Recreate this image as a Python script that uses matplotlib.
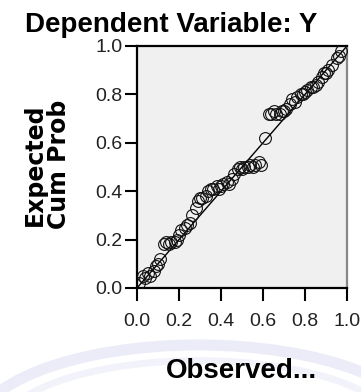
import matplotlib
matplotlib.use('Agg')
from matplotlib import pyplot as plt
from matplotlib.patches import Arc

# observed cum prob (x) and expected cum prob (y)
observed = [0.01, 0.03, 0.04, 0.05, 0.06, 0.08, 0.09, 0.10, 0.11, 0.13,
            0.14, 0.15, 0.16, 0.18, 0.19, 0.20, 0.21, 0.23, 0.24, 0.25,
            0.26, 0.28, 0.29, 0.30, 0.31, 0.33, 0.34, 0.35, 0.36, 0.38,
            0.39, 0.40, 0.41, 0.43, 0.44, 0.45, 0.46, 0.48, 0.49, 0.50,
            0.51, 0.53, 0.54, 0.55, 0.56, 0.58, 0.59, 0.61, 0.63, 0.64,
            0.65, 0.66, 0.68, 0.69, 0.70, 0.71, 0.73, 0.74, 0.75, 0.76,
            0.78, 0.79, 0.80, 0.81, 0.83, 0.84, 0.85, 0.86, 0.88, 0.89,
            0.90, 0.91, 0.93, 0.95, 0.96, 0.97]
expected = [0.02, 0.05, 0.04, 0.06, 0.05, 0.07, 0.09, 0.10, 0.12, 0.18,
            0.19, 0.18, 0.19, 0.19, 0.20, 0.22, 0.24, 0.25, 0.26, 0.27,
            0.30, 0.33, 0.36, 0.37, 0.37, 0.38, 0.40, 0.41, 0.41, 0.42,
            0.41, 0.42, 0.43, 0.44, 0.43, 0.45, 0.47, 0.49, 0.50, 0.49,
            0.50, 0.50, 0.51, 0.50, 0.51, 0.52, 0.51, 0.62, 0.72, 0.72,
            0.73, 0.72, 0.72, 0.73, 0.73, 0.74, 0.76, 0.78, 0.77, 0.79,
            0.80, 0.80, 0.81, 0.82, 0.83, 0.83, 0.84, 0.85, 0.87, 0.89,
            0.89, 0.90, 0.92, 0.95, 0.96, 0.98]
ticks = [0.0, 0.2, 0.4, 0.6, 0.8, 1.0]
tick_labels = ['0.0', '0.2', '0.4', '0.6', '0.8', '1.0']

plt.rcParams['font.family'] = ['Liberation Sans', 'DejaVu Sans']

fig = plt.figure(figsize=(3.61, 3.92), dpi=100)
fig.patch.set_facecolor('white')

# faint watermark arcs at the bottom
fig.add_artist(Arc((0.55, -0.10), 1.24, 0.44, theta1=0, theta2=180,
                   transform=fig.transFigure, color='#ececf8', lw=8, zorder=0))
fig.add_artist(Arc((0.55, -0.10), 1.10, 0.36, theta1=0, theta2=180,
                   transform=fig.transFigure, color='#f2f2fb', lw=5, zorder=0))

ax = fig.add_axes([137 / 361, (392 - 288) / 392, 210 / 361, 242 / 392])
ax.set_facecolor('#f0f0f0')

ax.plot([0, 1], [0, 1], color='black', lw=1.0, zorder=2)
ax.plot(observed, expected, 'o', mfc='none', mec='#111111', ms=8.5, mew=0.8, zorder=3)

ax.set_xlim(0, 1)
ax.set_ylim(0, 1)
ax.set_xticks(ticks)
ax.set_yticks(ticks)
ax.set_xticklabels(tick_labels)
ax.set_yticklabels(tick_labels)
ax.tick_params(direction='out', length=9, width=1.5, labelsize=14, colors='black',
               labelcolor='#222222')
ax.tick_params(axis='x', pad=9)
ax.tick_params(axis='y', pad=1.5)

for s in ['left', 'bottom', 'top']:
    ax.spines[s].set_color('black')
    ax.spines[s].set_linewidth(1.6)
ax.spines['right'].set_color('#888888')
ax.spines['right'].set_linewidth(1.6)

fig.text(0.475, 0.937, 'Dependent Variable: Y', ha='center', va='center',
         fontsize=20, fontweight='bold')
fig.text(0.13, 0.58, 'Expected\nCum Prob', ha='center', va='center', rotation=90,
         fontsize=17, fontweight='bold', linespacing=1.0,
         family=['DejaVu Sans'])
fig.text(0.668, 0.054, 'Observed...', ha='center', va='center',
         fontsize=20, fontweight='bold')

fig.savefig('out.png', dpi=100)
